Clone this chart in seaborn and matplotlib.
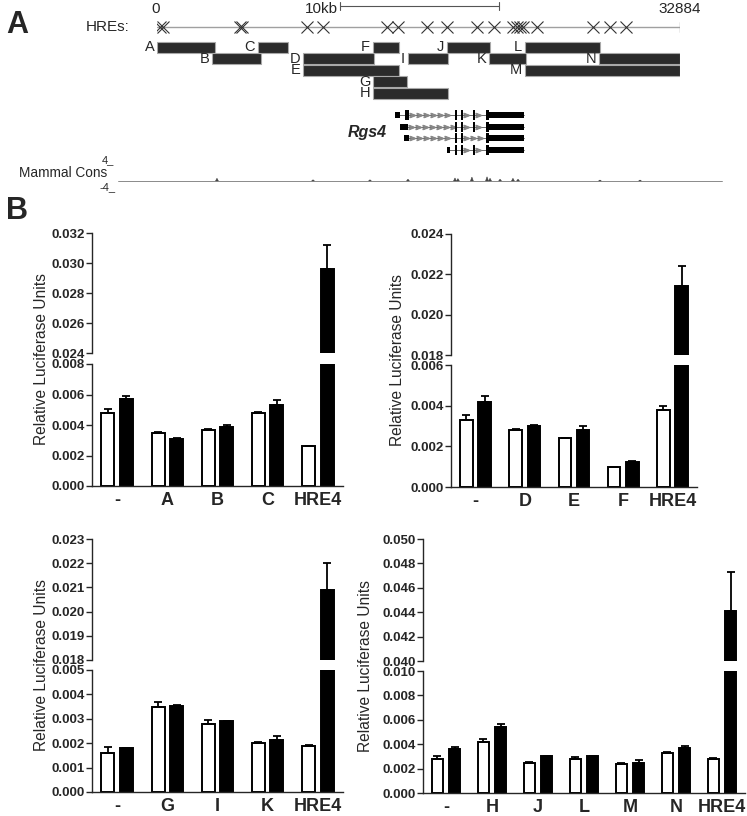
import numpy as np
import pandas as pd
import matplotlib
matplotlib.use("Agg")
import matplotlib.pyplot as plt
import seaborn as sns

sns.set_style("ticks")
plt.rcParams['font.family'] = ['Liberation Sans', 'DejaVu Sans']

W, H = 747, 816

# ---------------------------------------------------------------------------
# Panel A data (positions in bp)
# ---------------------------------------------------------------------------
locus_len = 32884
scale_start = 11500
scale_len = 10000
hre_pos = [190, 380, 5220, 5340, 9430, 10440, 14460, 15150, 16980, 18230,
           20120, 21190, 22380, 22630, 22820, 23010, 23890, 27410, 28480, 29490]
frag_names = ['A', 'B', 'C', 'D', 'E', 'F', 'G', 'H', 'I', 'J', 'K', 'L', 'M', 'N']
frag_start = [0, 3460, 6350, 9180, 9180, 13580, 13580, 13580, 15780, 18230,
              20870, 23140, 23140, 27790]
frag_end = [3650, 6540, 8240, 13640, 15220, 15220, 15720, 18300, 18300, 20940,
            23200, 27850, 32884, 32884]
frag_row = [0, 1, 0, 1, 2, 0, 3, 4, 1, 0, 1, 0, 2, 1]

# Rgs4 transcripts: (start, end, tall)
transcripts = [
    [(14960, 15280, False), (15590, 15840, True), (18735, 18860, True),
     (19110, 19240, True), (19870, 19990, True), (20680, 20870, True), (20870, 23070, False)],
    [(15280, 15780, False), (18735, 18860, True), (19110, 19240, True),
     (19870, 19990, True), (20680, 20870, True), (20870, 23070, False)],
    [(15530, 15840, False), (18735, 18860, True), (19110, 19240, True),
     (20680, 20870, True), (20870, 23070, False)],
    [(18230, 18420, False), (18735, 18860, True), (19110, 19240, True),
     (19870, 19990, True), (20680, 20870, True), (20870, 23070, False)],
]

# Mammal conservation peaks
cons_peak_pos = [3770, 9810, 13390, 15780, 18735, 18920, 19800, 20750, 20940,
                 21570, 22380, 22700, 27850, 30370]
cons_peak_h = [0.9, 0.4, 0.4, 0.6, 1.0, 0.8, 1.3, 1.4, 0.9, 0.6, 0.9, 0.6, 0.3, 0.3]

# ---------------------------------------------------------------------------
# Panel B data
# ---------------------------------------------------------------------------
cats_1 = ['-', 'A', 'B', 'C', 'HRE4']
white_1 = [0.0048, 0.0035, 0.0037, 0.0048, 0.0026]
white_err_1 = [0.00024, 0.00006, 0.00007, 0.00007, 0.00005]
black_1 = [0.0057, 0.0031, 0.0039, 0.0053, 0.0296]
black_err_1 = [0.00018, 0.00005, 0.00007, 0.00033, 0.0016]

cats_2 = ['-', 'D', 'E', 'F', 'HRE4']
white_2 = [0.0033, 0.0028, 0.0024, 0.00097, 0.0038]
white_err_2 = [0.00025, 0.00003, 0.00003, 0.00003, 0.0002]
black_2 = [0.0042, 0.0030, 0.0028, 0.00125, 0.0214]
black_err_2 = [0.00027, 0.00004, 0.0002, 0.00003, 0.0010]

cats_3 = ['-', 'G', 'I', 'K', 'HRE4']
white_3 = [0.0016, 0.0035, 0.0028, 0.0020, 0.0019]
white_err_3 = [0.00024, 0.00019, 0.00014, 0.00003, 0.00004]
black_3 = [0.0018, 0.00354, 0.0029, 0.00214, 0.0209]
black_err_3 = [0.00002, 0.00004, 0.00003, 0.00014, 0.0011]

cats_4 = ['-', 'H', 'J', 'L', 'M', 'N', 'HRE4']
white_4 = [0.0028, 0.0042, 0.0025, 0.0028, 0.0024, 0.0033, 0.0028]
white_err_4 = [0.00027, 0.00024, 0.00005, 0.00019, 0.00005, 0.00008, 0.00006]
black_4 = [0.0036, 0.0054, 0.0030, 0.0030, 0.0025, 0.0037, 0.0441]
black_err_4 = [0.00021, 0.00028, 0.00005, 0.00005, 0.00019, 0.00019, 0.0032]


def px_box(left, top, right, bottom):
    return [left / W, 1 - bottom / H, (right - left) / W, (bottom - top) / H]


fig = plt.figure(figsize=(W / 100, H / 100), dpi=100)

# ============================================================================
# Panel A: locus map
# ============================================================================
ax = fig.add_axes(px_box(157, 0, 680, 200))
ax.set_xlim(0, locus_len)
ax.set_ylim(200, 0)
ax.axis('off')

line_y = 27
ax.plot([0, locus_len], [line_y, line_y], color='#a0a0a0', lw=1.0, zorder=1)
ax.plot([locus_len, locus_len], [line_y - 5, line_y + 5], color='#a0a0a0', lw=1.0)
ax.plot(hre_pos, [line_y] * len(hre_pos), ls='none', marker='x', ms=9,
        mew=0.8, color='#333333', zorder=2)
ax.text(-1700, line_y, 'HREs:', ha='right', va='center', fontsize=11)
ax.text(-60, 9, '0', ha='center', va='center', fontsize=11)
ax.text(locus_len, 9, str(locus_len), ha='center', va='center', fontsize=11)
ax.text(scale_start - 150, 9, '10kb', ha='right', va='center', fontsize=11)
ax.plot([scale_start, scale_start + scale_len], [6, 6], color='#555555', lw=0.8)
for sx in [scale_start, scale_start + scale_len]:
    ax.plot([sx, sx], [2, 10], color='#555555', lw=0.8)

row_y0, row_step, row_h = 47, 11.6, 11
for name, s, e, r in zip(frag_names, frag_start, frag_end, frag_row):
    y = row_y0 + row_step * r
    ax.barh(y, e - s, left=s, height=row_h, color='#2b2b2b',
            edgecolor='#a8a8a8', linewidth=0.8)
    ax.annotate(name, (s, y), xytext=(-2, 0), textcoords='offset points',
                ha='right', va='center', fontsize=10.5)

tx_y0, tx_step = 115, 11.7
for k, exons in enumerate(transcripts):
    y = tx_y0 + tx_step * k
    t0, t1 = exons[0][0], exons[-1][1]
    ax.plot([t0, t1], [y, y], color='#555555', lw=0.6, zorder=1)
    for a, b in zip(exons[:-1], exons[1:]):
        xs = np.arange(a[1] + 220, b[0] - 100, 430)
        ax.plot(xs, [y] * len(xs), ls='none', marker=r'$>$', ms=3.5,
                color='#888888', zorder=1)
    for s, e, tall in exons:
        hh = 10 if tall else 6
        ax.barh(y, e - s, left=s, height=hh, color='black', lw=0, zorder=2)
ax.text(13200, 133, 'Rgs4', ha='center', va='center', fontsize=11.5,
        fontweight='bold', fontstyle='italic')

# conservation track
cons_y = 181
ax.plot([-2450, 35520], [cons_y, cons_y], color='#777777', lw=0.6, clip_on=False)
for p, h in zip(cons_peak_pos, cons_peak_h):
    ax.fill([p - 90, p, p + 90], [cons_y, cons_y - 3 * h, cons_y],
            color='#444444', lw=0.4, clip_on=False)
ax.text(-3100, 173, 'Mammal Cons', ha='right', va='center', fontsize=9.8)
ax.text(-3470, 160, '4_', ha='left', va='center', fontsize=8)
ax.text(-3620, 187, '-4_', ha='left', va='center', fontsize=8)

fig.text(17 / W, 1 - 25 / H, 'A', fontsize=22, fontweight='bold',
         ha='center', va='center')
fig.text(17 / W, 1 - 211 / H, 'B', fontsize=22, fontweight='bold',
         ha='center', va='center')

# ============================================================================
# Panel B: broken-axis luciferase bar charts
# ============================================================================


def add_errorbars(ax, errs):
    for cont, err in zip(ax.containers, errs):
        xs = [b.get_x() + b.get_width() / 2 for b in cont]
        hs = [b.get_height() for b in cont]
        ax.errorbar(xs, hs, yerr=[np.zeros(len(err)), err], fmt='none',
                    ecolor='black', elinewidth=1.3, capsize=3, capthick=1.3,
                    zorder=3)


def bar_panel(box_hi, box_lo, cats, white, white_err, black, black_err,
              lo_lim, hi_lim, step, ylab_x):
    df = pd.DataFrame({
        'construct': cats * 2,
        'cond': ['norm'] * len(cats) + ['hyp'] * len(cats),
        'value': white + black,
    })
    ax_hi = fig.add_axes(px_box(*box_hi))
    ax_lo = fig.add_axes(px_box(*box_lo))
    for a in (ax_hi, ax_lo):
        sns.barplot(data=df, x='construct', y='value', hue='cond', order=cats,
                    hue_order=['norm', 'hyp'],
                    palette={'norm': 'white', 'hyp': 'black'},
                    edgecolor='black', linewidth=1.4, width=0.74, gap=0.3,
                    errorbar=None, legend=False, ax=a)
        add_errorbars(a, [white_err, black_err])
        a.set_xlim(-0.5, len(cats) - 0.5)
        a.set_xlabel('')
        a.set_ylabel('')
        for sp in ['top', 'right']:
            a.spines[sp].set_visible(False)
        a.spines['left'].set_linewidth(1.0)
        a.tick_params(axis='y', direction='out', length=4, width=1.0, pad=1)
    ax_hi.set_ylim(*hi_lim)
    ax_hi.set_yticks(np.round(np.arange(hi_lim[0], hi_lim[1] + step / 2, step), 4))
    ax_hi.spines['bottom'].set_visible(False)
    ax_hi.tick_params(axis='x', bottom=False, labelbottom=False)
    ax_lo.set_ylim(*lo_lim)
    ax_lo.set_yticks(np.round(np.arange(lo_lim[0], lo_lim[1] + step / 2, step), 4))
    ax_lo.spines['bottom'].set_linewidth(1.0)
    ax_lo.tick_params(axis='x', length=0, pad=4)
    for a in (ax_hi, ax_lo):
        a.set_yticklabels([f'{v:.3f}' for v in a.get_yticks()],
                          fontsize=9.5, fontweight='bold')
    ax_lo.set_xticks(range(len(cats)))
    ax_lo.set_xticklabels(cats, fontsize=13, fontweight='bold')
    yc = (box_hi[1] + box_lo[3]) / 2
    fig.text(ylab_x / W, 1 - yc / H, 'Relative Luciferase Units', rotation=90,
             ha='center', va='center', fontsize=11.2)


bar_panel((92, 233, 343, 353), (92, 364, 343, 486), cats_1, white_1,
          white_err_1, black_1, black_err_1, (0, 0.008), (0.024, 0.032), 0.002, 42)
bar_panel((451, 234, 697, 355), (451, 365, 697, 487), cats_2, white_2,
          white_err_2, black_2, black_err_2, (0, 0.006), (0.018, 0.024), 0.002, 398)
bar_panel((92, 539, 343, 660), (92, 670, 343, 792), cats_3, white_3,
          white_err_3, black_3, black_err_3, (0, 0.005), (0.018, 0.023), 0.001, 42)
bar_panel((423, 539, 745, 661), (423, 671, 745, 793), cats_4, white_4,
          white_err_4, black_4, black_err_4, (0, 0.010), (0.040, 0.050), 0.002, 366)

fig.savefig('out.png', dpi=100)
